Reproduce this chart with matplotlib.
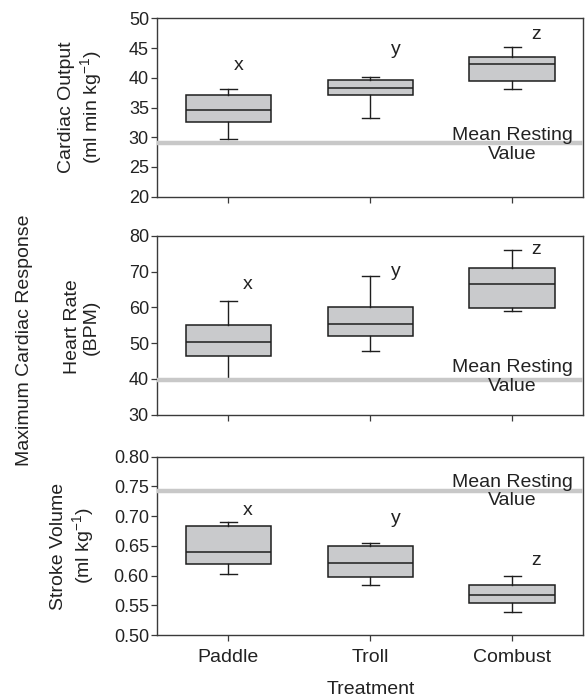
import matplotlib
matplotlib.use("Agg")
import matplotlib.pyplot as plt

plt.rcParams['font.family'] = ['Liberation Sans', 'DejaVu Sans']
plt.rcParams['mathtext.fontset'] = 'custom'
plt.rcParams['mathtext.rm'] = 'Liberation Sans'
plt.rcParams['mathtext.it'] = 'Liberation Sans:italic'

categories = ["Paddle", "Troll", "Combust"]
letters = ["x", "y", "z"]

# Cardiac output (ml min kg-1)
co_whislo = [29.65, 33.2, 38.1]
co_q1 = [32.5, 37.05, 39.5]
co_med = [34.5, 38.2, 42.3]
co_q3 = [37.15, 39.6, 43.5]
co_whishi = [38.05, 40.1, 45.1]
co_rest = 29.1
co_letter_y = [42.0, 44.7, 47.3]

# Heart rate (BPM)
hr_whislo = [40.0, 47.9, 58.9]
hr_q1 = [46.3, 52.1, 59.7]
hr_med = [50.2, 55.3, 66.5]
hr_q3 = [55.2, 60.0, 71.1]
hr_whishi = [61.7, 68.7, 76.1]
hr_rest = 39.6
hr_letter_y = [66.3, 70.0, 76.3]

# Stroke volume (ml kg-1)
sv_whislo = [0.603, 0.584, 0.538]
sv_q1 = [0.620, 0.598, 0.554]
sv_med = [0.639, 0.6205, 0.568]
sv_q3 = [0.684, 0.650, 0.5845]
sv_whishi = [0.6895, 0.654, 0.600]
sv_rest = 0.7417
sv_letter_y = [0.710, 0.696, 0.626]

co_ticks = [20, 25, 30, 35, 40, 45, 50]
hr_ticks = [30, 40, 50, 60, 70, 80]
sv_ticks = [0.50, 0.55, 0.60, 0.65, 0.70, 0.75, 0.80]

W, H = 588, 697
fig = plt.figure(figsize=(W / 100, H / 100), dpi=100)

def px_axes(top, bottom, left=157.3, right=583.0):
    return fig.add_axes([left / W, 1 - bottom / H, (right - left) / W, (bottom - top) / H])

panels = [
    dict(ax=px_axes(18.3, 196.7), lo=co_whislo, q1=co_q1, med=co_med, q3=co_q3, hi=co_whishi,
         rest=co_rest, ly=co_letter_y, ticks=co_ticks, fmt="{:.0f}",
         label="Cardiac Output\n(ml min kg$^{-1}$)", lx=81, lyc=107.5,
         lxs=[1.07, 2.18, 3.17], rest_off_px=-2.3),
    dict(ax=px_axes(236.0, 414.5), lo=hr_whislo, q1=hr_q1, med=hr_med, q3=hr_q3, hi=hr_whishi,
         rest=hr_rest, ly=hr_letter_y, ticks=hr_ticks, fmt="{:.0f}",
         label="Heart Rate\n(BPM)", lx=82, lyc=327,
         lxs=[1.135, 2.18, 3.17], rest_off_px=3.3),
    dict(ax=px_axes(456.7, 635.0), lo=sv_whislo, q1=sv_q1, med=sv_med, q3=sv_q3, hi=sv_whishi,
         rest=sv_rest, ly=sv_letter_y, ticks=sv_ticks, fmt="{:.2f}",
         label="Stroke Volume\n(ml kg$^{-1}$)", lx=73, lyc=546,
         lxs=[1.135, 2.18, 3.17], rest_off_px=0.0),
]

box_face = "#c9cacc"
edge = "#1e1e1e"
rest_color = "#c8c8c8"
spine_color = "#3a3a3a"

for i, p in enumerate(panels):
    ax = p["ax"]
    stats = []
    for j, c in enumerate(categories):
        stats.append(dict(label=c, whislo=p["lo"][j], q1=p["q1"][j], med=p["med"][j],
                          q3=p["q3"][j], whishi=p["hi"][j], fliers=[]))
    ax.bxp(stats, positions=[1, 2, 3], widths=0.6, showfliers=False, patch_artist=True,
           capwidths=0.12,
           boxprops=dict(facecolor=box_face, edgecolor=edge, linewidth=1.1),
           medianprops=dict(color=edge, linewidth=1.1),
           whiskerprops=dict(color=edge, linewidth=1.0),
           capprops=dict(color=edge, linewidth=1.0))
    ax.axhline(p["rest"], color=rest_color, linewidth=3.2, zorder=5)
    ax.annotate("Mean Resting\nValue", xy=(3.0, p["rest"]), xycoords="data",
                xytext=(0, p["rest_off_px"] * 0.72), textcoords="offset points",
                ha="center", va="center",
                fontsize=14, color="#222222", linespacing=1.12, zorder=6)
    for j, lt in enumerate(letters):
        ax.text(p["lxs"][j], p["ly"][j], lt,
                ha="center", va="center", fontsize=14, color="#222222")
    ax.set_xlim(0.5, 3.5)
    ax.set_ylim(p["ticks"][0], p["ticks"][-1])
    ax.set_yticks(p["ticks"])
    ax.set_yticklabels([p["fmt"].format(t) for t in p["ticks"]])
    ax.set_xticks([1, 2, 3])
    if i == 2:
        ax.set_xticklabels(categories)
    else:
        ax.set_xticklabels([])
    ax.tick_params(axis="both", direction="out", length=4, width=0.9, color=spine_color,
                   labelsize=13, labelcolor="#222222", pad=2)
    ax.tick_params(axis="x", labelsize=14, pad=6)
    for s in ax.spines.values():
        s.set_color(spine_color)
        s.set_linewidth(1.0)
    fig.text(p["lx"] / W, 1 - p["lyc"] / H, p["label"], rotation=90, ha="center",
             va="center", fontsize=14, color="#222222", multialignment="center",
             linespacing=1.15)

fig.text(25 / W, 1 - 340 / H, "Maximum Cardiac Response", rotation=90, ha="center",
         va="center", fontsize=14, color="#222222")
fig.text(371 / W, 1 - 689 / H, "Treatment", ha="center", va="center", fontsize=14,
         color="#222222")

fig.savefig("out.png", dpi=100)
